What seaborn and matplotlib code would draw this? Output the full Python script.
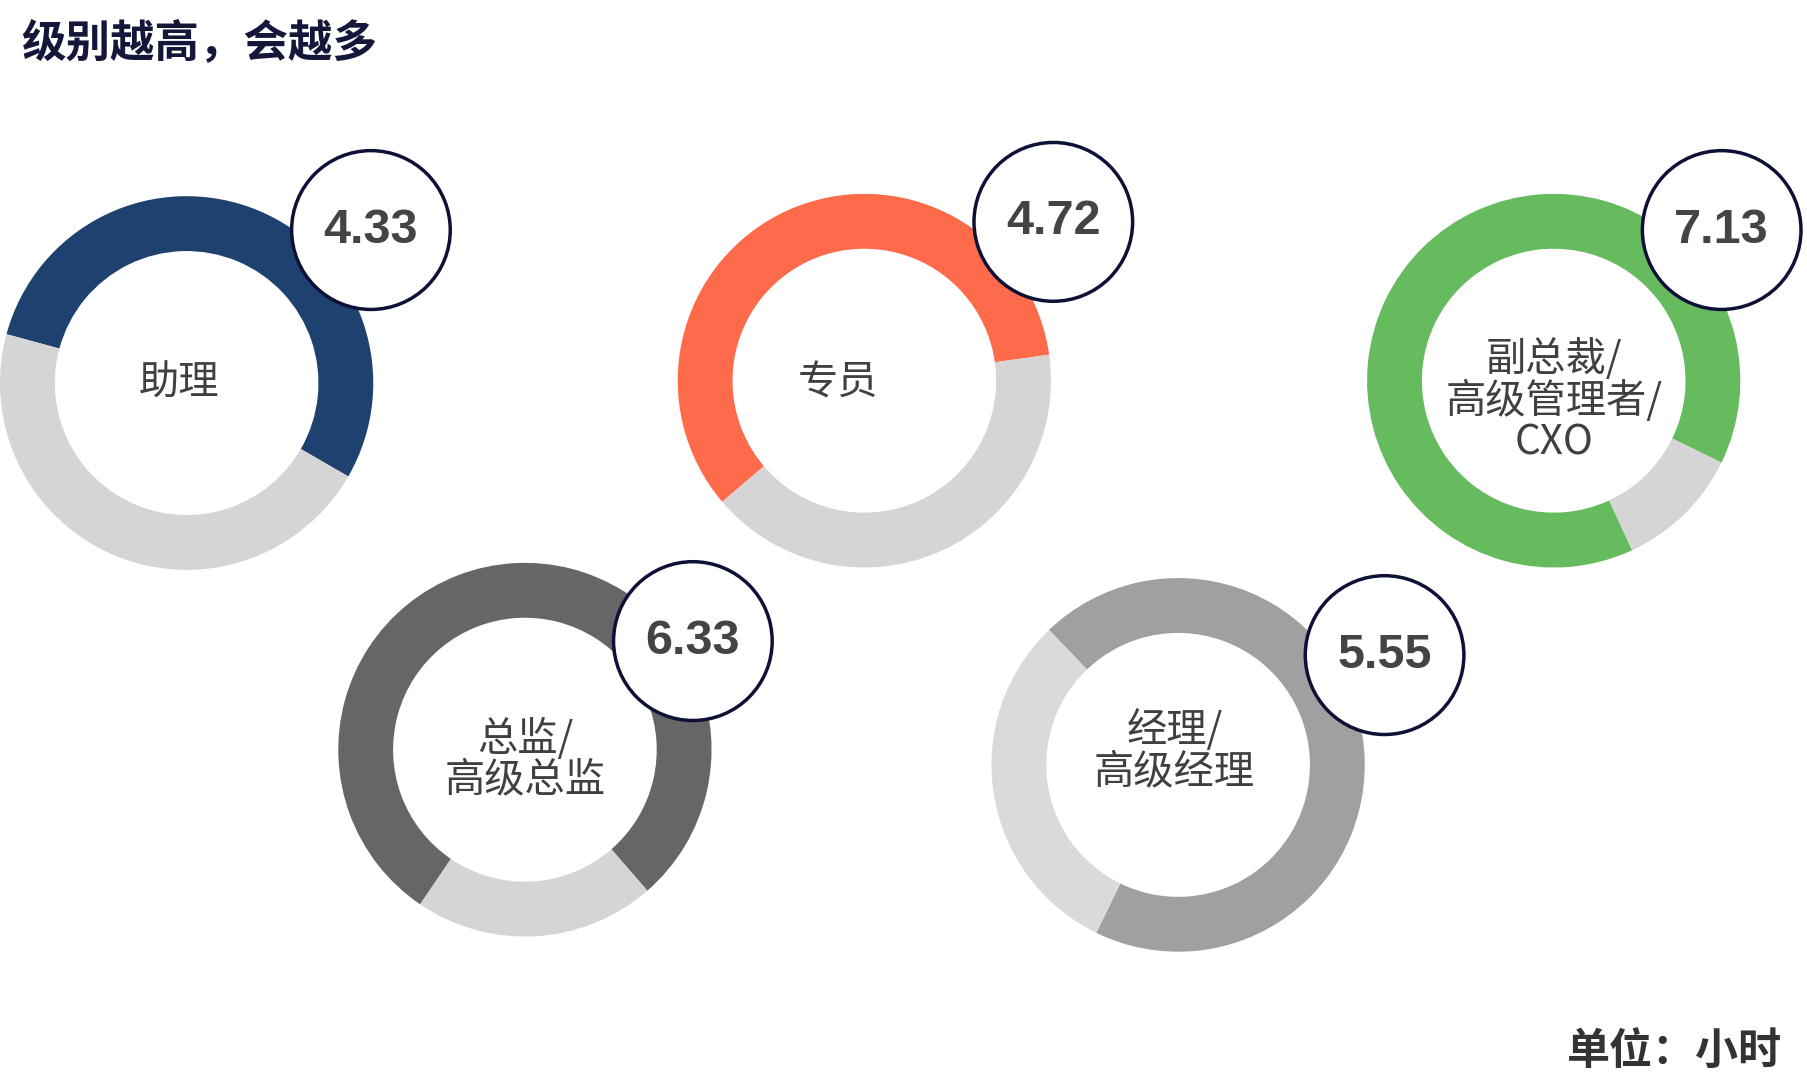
import matplotlib
matplotlib.use("Agg")
import matplotlib.pyplot as plt
import seaborn as sns
from matplotlib.patches import Circle

sns.set_theme(style="white")
plt.rcParams["font.family"] = ["Noto Sans CJK SC", "DejaVu Sans"]

# 数据
levels = ["助理", "专员", "副总裁/\n高级管理者/\nCXO", "总监/\n高级总监", "经理/\n高级经理"]
hours = [4.33, 4.72, 7.13, 6.33, 5.55]
max_hours = 8
colors = ["#1f4170", "#fd6b4b", "#66bb5f", "#666666", "#a0a0a0"]
rest_colors = ["#d5d5d5", "#d5d5d5", "#d5d5d5", "#d5d5d5", "#dadada"]
start_angles = [-30, 8, -26, -49, 244]

# 布局 (画面像素坐标, y 向下)
H = 930
centers = [(160, 328), (741, 326), (1332, 326), (450, 642), (1010, 655)]
bubbles = [(318, 197), (903, 190), (1476, 197), (594, 549), (1187, 561)]
label_pos = [(153, 328), (718, 328), (1332, 343), (450, 650), (1007, 643)]

fig = plt.figure(figsize=(18.08, 10.86), dpi=100)
ax = fig.add_axes([0, 0, 1, 1])

for i in range(len(levels)):
    cx, cy = centers[i]
    ax.pie([hours[i], max_hours - hours[i]], colors=[colors[i], rest_colors[i]],
           startangle=start_angles[i], counterclock=True,
           center=(cx, H - cy), radius=160,
           wedgeprops=dict(width=47, linewidth=0))
    lx, ly = label_pos[i]
    ax.text(lx, H - ly, levels[i], ha="center", va="center", fontsize=29,
            color="#404040", linespacing=1.0)
    bx, by = bubbles[i]
    ax.add_patch(Circle((bx, H - by), 68, facecolor="white", edgecolor="#0d1137",
                        linewidth=2.5, zorder=5))
    ax.text(bx, H - by, f"{hours[i]:.2f}", ha="center", va="center", fontsize=35,
            fontweight="bold", color="#444444", zorder=6, family="Liberation Sans")

ax.text(18, H - 37, "级别越高，会越多", ha="left", va="center", fontsize=32,
        fontweight="bold", color="#14173a")
ax.text(1528, H - 900, "单位：小时", ha="right", va="center", fontsize=31,
        fontweight="bold", color="#333333")

ax.set_xlim(0, 1550)
ax.set_ylim(0, H)
ax.set_aspect("auto")
ax.axis("off")

fig.savefig("out.png", dpi=100)
